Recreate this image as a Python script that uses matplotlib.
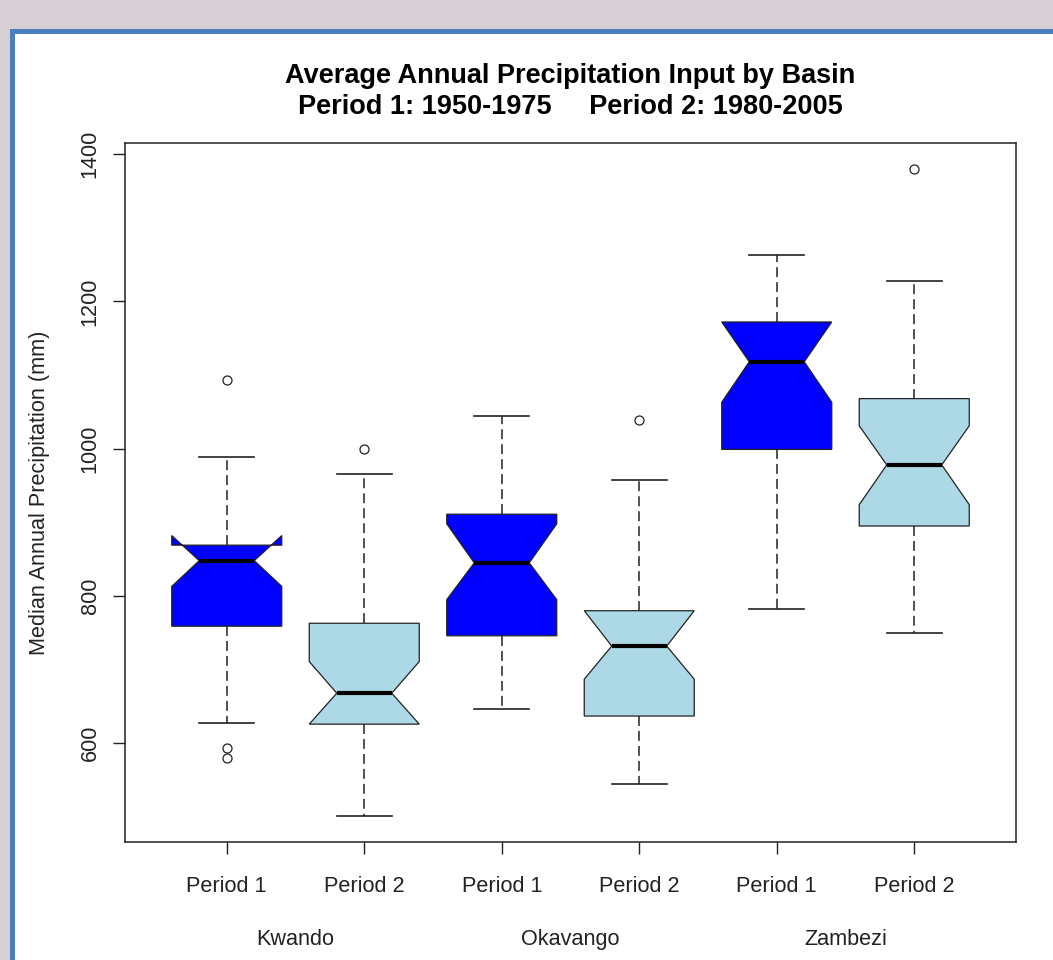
"""notched boxplots of basin precipitation, two periods"""

import matplotlib
matplotlib.use('Agg')
import matplotlib.pyplot as plt
from matplotlib.patches import Rectangle

plt.rcParams['font.family'] = ['Liberation Sans', 'DejaVu Sans']

# values (mm)
basins = ['Kwando', 'Okavango', 'Zambezi']
periods = ['Period 1', 'Period 2', 'Period 1', 'Period 2', 'Period 1', 'Period 2']
q1 = [759, 626, 746, 637, 999, 895]
med = [848, 668, 845, 732, 1118, 978]
q3 = [869, 763, 911, 780, 1172, 1068]
whislo = [627, 501, 646, 545, 782, 750]
whishi = [989, 966, 1045, 957, 1263, 1227]
cilo = [813, 626, 795, 687, 1063, 924]
cihi = [882, 711, 898, 780, 1172, 1031]
fliers = [[1093, 593, 580], [1000], [], [1039], [], [1380]]
colors = ['#0000ff', '#add8e6'] * 3

W, H = 1053, 960
fig = plt.figure(figsize=(W / 100, H / 100), dpi=100, facecolor='#d6cfd3')

# window panel from the screenshot (behind the axes)
fig.patches.append(Rectangle((12 / W, -0.1), 1.2, (H - 31) / H + 0.1,
                             transform=fig.transFigure, fc='white',
                             ec='#4a7ebf', lw=3.6, zorder=-1))

ax = fig.add_axes([125 / W, 1 - 842 / H, (1016 - 125) / W, (842 - 143) / H])
ax.set_facecolor('white')

stats = []
for i in range(len(periods)):
    stats.append({'med': med[i], 'q1': q1[i], 'q3': q3[i],
                  'whislo': whislo[i], 'whishi': whishi[i],
                  'cilo': cilo[i], 'cihi': cihi[i],
                  'fliers': fliers[i], 'label': periods[i]})

bp = ax.bxp(stats, positions=range(1, 7), widths=0.8, shownotches=True,
            patch_artist=True,
            boxprops={'edgecolor': '#222222', 'linewidth': 0.9},
            medianprops={'color': 'black', 'linewidth': 3.0},
            whiskerprops={'color': '#222222', 'linewidth': 1.1,
                          'linestyle': (0, (6.5, 3.3))},
            capprops={'color': '#222222', 'linewidth': 1.2},
            flierprops={'marker': 'o', 'markersize': 6.5,
                        'markerfacecolor': 'none',
                        'markeredgecolor': '#222222',
                        'markeredgewidth': 0.9})
for box, c in zip(bp['boxes'], colors):
    box.set_facecolor(c)

ax.set_xlim(0.26, 6.74)
ax.set_ylim(466, 1415)
ax.set_yticks([600, 800, 1000, 1200, 1400])
ax.set_yticklabels(['600', '800', '1000', '1200', '1400'],
                   rotation=90, va='center')
ax.tick_params(axis='both', direction='out', length=8.6, width=1.0,
               labelsize=15.6, colors='#222222')
ax.tick_params(axis='y', pad=9)
ax.tick_params(axis='x', pad=16)
for s in ax.spines.values():
    s.set_linewidth(1.1)
    s.set_color('#222222')

ax.set_ylabel('Median Annual Precipitation (mm)', fontsize=15.6,
              color='#222222', labelpad=21)

for k, b in enumerate(basins):
    ax.text(1.5 + 2 * k, -0.139, b, transform=ax.get_xaxis_transform(),
            ha='center', va='center', fontsize=15.6, color='#222222')

ax.set_title('Average Annual Precipitation Input by Basin\n'
             'Period 1: 1950-1975     Period 2: 1980-2005',
             fontsize=19.5, fontweight='bold', pad=21, linespacing=1.25)

fig.savefig('out.png', dpi=100, facecolor=fig.get_facecolor())
